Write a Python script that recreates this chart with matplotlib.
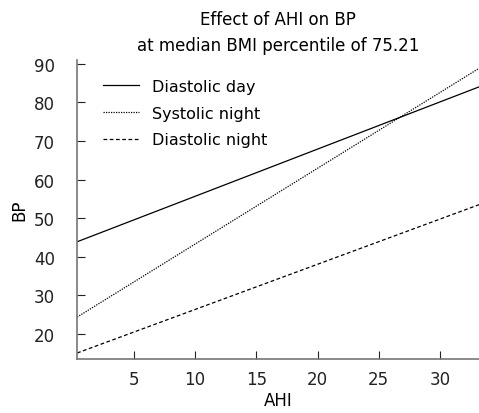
import matplotlib
matplotlib.use("Agg")
import matplotlib.pyplot as plt

# line endpoints
ahi = [0.35, 33.2]
diastolic_day = [43.9, 84.0]
systolic_night = [24.4, 88.8]
diastolic_night = [15.1, 53.5]

xticks = [5, 10, 15, 20, 25, 30]
yticks = [20, 30, 40, 50, 60, 70, 80, 90]

plt.rcParams['font.family'] = 'DejaVu Sans'
fig = plt.figure(figsize=(4.79, 4.14), dpi=100)
ax = fig.add_axes([0.161, 0.130, 0.839, 0.723])

ax.plot(ahi, diastolic_day, color='black', lw=0.9, ls='-', label='Diastolic day')
ax.plot(ahi, systolic_night, color='black', lw=0.9, ls=(0, (1, 1)), label='Systolic night')
ax.plot(ahi, diastolic_night, color='black', lw=0.9, ls=(0, (3, 2)), label='Diastolic night')

ax.set_xlim(0.35, 33.2)
ax.set_ylim(13.5, 91)
ax.set_xticks(xticks)
ax.set_yticks(yticks)
ax.tick_params(direction='in', length=6, labelsize=12, colors='#222222')
ax.tick_params(axis='x', pad=8)
ax.tick_params(axis='y', pad=16)
for s in ['top', 'right']:
    ax.spines[s].set_visible(False)
for s in ['left', 'bottom']:
    ax.spines[s].set_color('#777777')
    ax.spines[s].set_linewidth(1.2)

ax.set_xlabel('AHI', fontsize=12, labelpad=2)
ax.set_ylabel('BP', fontsize=12, labelpad=4)
ax.set_title('Effect of AHI on BP\nat median BMI percentile of 75.21', fontsize=12, linespacing=1.55, pad=7)
ax.legend(loc='upper left', frameon=False, fontsize=11.5, handlelength=2.3,
          bbox_to_anchor=(0.028, 0.985), labelspacing=0.74)

fig.savefig('out.png', dpi=100)
